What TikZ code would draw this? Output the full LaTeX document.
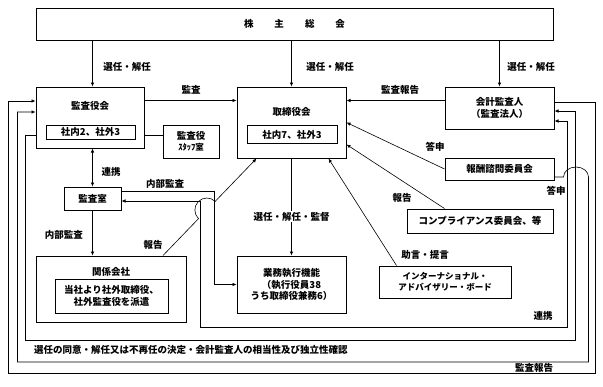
\documentclass[tikz,border=0pt]{standalone}
\usepackage{fontspec}
\setmainfont{Noto Sans CJK JP}
\usetikzlibrary{arrows.meta, positioning, calc}

\begin{document}
\begin{tikzpicture}[x=1pt, y=-1pt,
  every node/.style={font=\fontsize{9.5}{11.5}\selectfont\bfseries},
  obox/.style={draw, line width=1pt, inner sep=0pt, align=center},
  ibox/.style={draw, line width=1pt, inner sep=0pt, align=center},
  lbl/.style={inner sep=1pt},
  ln/.style={line width=0.6pt},
  arr/.style={-{Latex[length=4pt, width=3.5pt]}, line width=0.6pt},
  dar/.style={{Latex[length=4pt, width=3.5pt]}-{Latex[length=4pt, width=3.5pt]}, line width=0.6pt},
]
  \useasboundingbox (0,0) rectangle (603,386);

  % boxes
  \node[obox, minimum width=517pt, minimum height=32pt] (gm) at (294.5,24)
    {株\hspace{21pt}主\hspace{21pt}総\hspace{21pt}会};

  \node[obox, minimum width=108pt, minimum height=61pt] (kyk) at (90,117.5) {};
  \node (kykt) at ([yshift=-19.5pt]kyk.north) {監査役会};
  \node[ibox, minimum width=89pt, minimum height=14pt] (kyki) at (90.5,132) {社内2、社外3};

  \node[obox, minimum width=56pt, minimum height=33pt] (staff) at (191,141.5)
    {監査役\\{\fontsize{8.5}{10}\selectfont ｽﾀｯﾌ室}};

  \node[obox, minimum width=109pt, minimum height=71pt] (tb) at (291.5,122.5) {};
  \node (tbt) at ([yshift=-25pt]tb.north) {取締役会};
  \node[ibox, minimum width=90pt, minimum height=18pt] (tbi) at (292,134.5) {社内7、社外3};

  \node[obox, minimum width=109pt, minimum height=42pt] (kaikei) at (499.5,108)
    {会計監査人\\（監査法人）};
  \node[obox, minimum width=109pt, minimum height=22pt] (houshu) at (499.5,169)
    {報酬諮問委員会};
  \node[obox, minimum width=146pt, minimum height=24pt] (comp) at (480,221)
    {コンプライアンス委員会、等};
  \node[obox, minimum width=132pt, minimum height=32pt,
        font=\fontsize{8.5}{11}\selectfont\bfseries] (iab) at (445,282)
    {インターナショナル・\\アドバイザリー・ボード};

  \node[obox, minimum width=57pt, minimum height=23pt] (ksh) at (92.5,198.5) {監査室};

  \node[obox, minimum width=150pt, minimum height=66pt] (kankei) at (111,289) {};
  \node (kankeit) at ([yshift=-16pt]kankei.north) {関係会社};
  \node[ibox, minimum width=113pt, minimum height=34pt] (kankeii) at (111.5,296)
    {当社より社外取締役、\\社外監査役を派遣};

  \node[obox, minimum width=109pt, minimum height=57pt] (gyomu) at (291.5,284.5)
    {業務執行機能\\（執行役員38\\うち取締役兼務6）};

  % connectors
  \draw[arr] (gm.south -| ksh) -- (kyk.north -| ksh);
  \draw[arr] (gm.south -| tb) -- (tb.north);
  \draw[arr] (gm.south -| kaikei) -- (kaikei.north);
  \draw[arr] ([yshift=-14pt]kyk.north east) -- ([yshift=-14pt]tb.north west);
  \draw[arr] ([yshift=-14pt]kaikei.north west) -- ([yshift=-14pt]tb.north east);
  \draw[ln] ([yshift=-17.5pt]kyk.east) -- ([yshift=6.5pt]staff.west);
  \draw[arr] (houshu.west) -- ([yshift=-36pt]tb.north east);
  \draw[arr] ([xshift=38pt]comp.north west) -- ([yshift=-58pt]tb.north east);
  \draw[arr] ([xshift=18pt]iab.north west) -- ([xshift=-18pt]tb.south east);
  \draw[arr] (tb.south) -- (gyomu.north)
    node[pos=0.6, fill=white, lbl] (senkan) {選任・解任・監督};
  \draw[dar] (kyk.south -| ksh) -- (ksh.north);
  \draw[arr] (ksh.south) -- (kankei.north -| ksh);
  \draw[arr] ([yshift=7.5pt]ksh.east) -- ++(93,0) |- (gyomu.west);
  \draw[dar] ([yshift=-2.5pt]ksh.east) -- ++(79,0) -- ++(0,126) -- ++(367,0)
    |- ([yshift=-13pt]kaikei.east);
  \draw[arr] ([yshift=-17.5pt]kyk.west) -- ++(-10,0) -- ++(0,205) -- ++(550,0)
    |- ([yshift=-3pt]kaikei.east);
  \draw[arr] ([yshift=-8pt]houshu.east) -- ++(9,0)
    arc[start angle=180, end angle=360, x radius=12.5, y radius=10]
    -- ++(0,185) -- ++(-571,0) |- ([yshift=5.5pt]kyk.west);
  \draw[arr] ([yshift=6pt]kaikei.east) -- ++(41,0) -- ++(0,271) -- ++(-587,0)
    |- ([yshift=16.5pt]kyk.west);
  \coordinate (r1) at ([xshift=52pt]kankei.north);
  \coordinate (r2) at ([xshift=20pt]tb.south west);
  \draw[arr] (r1) -- ($(r1)!0.38!(r2)$)
    arc[start angle=134, end angle=314, radius=12] -- (r2);

  % labels
  \node[lbl] (l1) at (127,67) {選任・解任};
  \node[lbl] (l2) at (330,67) {選任・解任};
  \node[lbl] (l3) at (531,67) {選任・解任};
  \node[lbl] (l4) at (191,90) {監査};
  \node[lbl] (l5) at (400,90) {監査報告};
  \node[lbl] (l6) at (435,147) {答申};
  \node[lbl] (l7) at (402,198) {報告};
  \node[lbl] (l8) at (556,191) {答申};
  \node[lbl] (l9) at (425,255) {助言・提言};
  \node[lbl] (l10) at (111,172) {連携};
  \node[lbl] (l11) at (165,184) {内部監査};
  \node[lbl] (l12) at (64,235) {内部監査};
  \node[lbl] (l13) at (153,245) {報告};
  \node[lbl] (l14) at (543,316) {連携};
  \node[lbl] (l15) at (191,350) {選任の同意・解任又は不再任の決定・会計監査人の相当性及び独立性確認};
  \node[lbl] (l16) at (534,368) {監査報告};
\end{tikzpicture}
\end{document}
